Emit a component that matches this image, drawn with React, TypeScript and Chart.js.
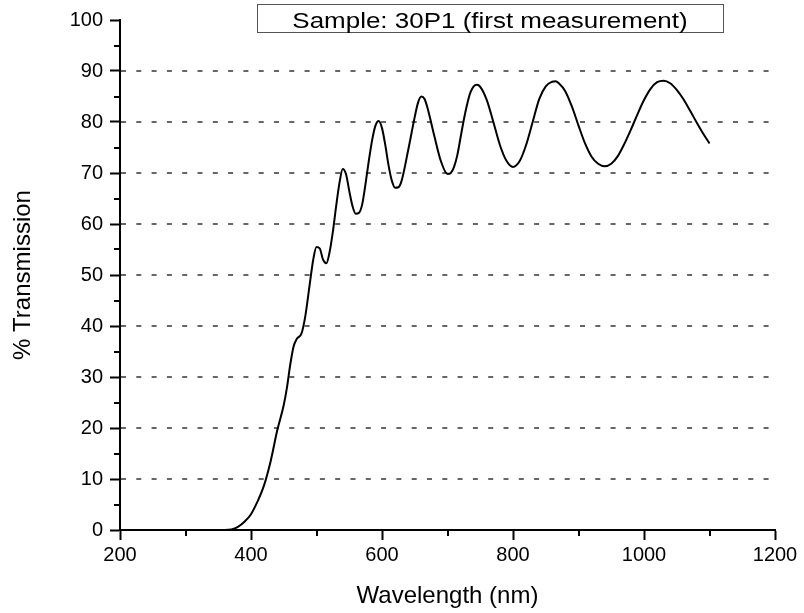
import React, { useEffect, useRef } from 'react';
import { Chart, registerables } from 'chart.js';

Chart.register(...registerables);

// ---- data ----
const wavelengths = [
  300, 320, 340, 360, 370, 380, 390, 400, 410, 420, 430, 440, 450, 455, 460, 465, 470, 477, 483, 490,
  495, 500, 505, 510, 515, 520, 525, 530, 535, 540, 545, 550, 555, 560, 565, 570, 575, 580, 585, 590,
  595, 600, 605, 610, 615, 620, 625, 630, 640, 650, 655, 660, 665, 670, 680, 690, 700, 705, 710, 715,
  720, 725, 730, 735, 740, 745, 750, 760, 770, 780, 790, 800, 810, 820, 830, 840, 850, 860, 865, 870,
  880, 890, 900, 910, 920, 930, 940, 950, 960, 970, 980, 990, 1000, 1010, 1020, 1030, 1040, 1050, 1060,
  1070, 1080, 1090, 1100,
];
const transmission = [
  0, 0, 0, 0, 0.1, 0.6, 1.6, 3.1, 5.6, 8.8, 13.5, 19.5, 24.5, 28, 32.5, 36, 37.5, 38.5, 42, 48.5,
  53, 55.5, 55.2, 53, 52.3, 54.5, 58.5, 63.5, 68, 70.8, 69.8, 66.5, 63.5, 62, 62.2, 64, 68, 72.5, 76.5, 79.3,
  80.2, 78.8, 75.5, 71.5, 68.5, 67.1, 67.2, 68.5, 74.5, 81, 83.8, 85, 84.5, 82.5, 77.2, 72.3, 69.8, 70, 71.2, 73.5,
  77, 80.5, 83.5, 85.8, 87, 87.3, 86.9, 84.3, 80, 75.5, 72.4, 71.2, 72.3, 75.5, 80, 84.5, 87, 87.9, 88, 87.6,
  86, 83, 79.3, 75.8, 73.2, 71.8, 71.3, 71.8, 73.3, 75.7, 78.5, 81.5, 84.3, 86.5, 87.8, 88.1, 87.6, 86.3, 84.5,
  82.3, 80, 77.8, 75.8,
];

const xRange = [200, 1200];
const yRange = [0, 100];
const xStep = 200;
const yStep = 10;
const gridValues = [10, 20, 30, 40, 50, 60, 70, 80, 90];
const xMinorTicks = [300, 500, 700, 900, 1100];
const yMinorTicks = [5, 15, 25, 35, 45, 55, 65, 75, 85, 95];

const chartTitle = 'Sample: 30P1 (first measurement)';
const xTitle = 'Wavelength (nm)';
const yTitle = '% Transmission';

const FONT = '"Liberation Sans", Arial, Helvetica, sans-serif';

const decorPlugin = {
  id: 'decor',
  beforeDatasetsDraw(chart: any) {
    const { ctx, chartArea, scales } = chart;
    const x = scales.x;
    const y = scales.y;
    ctx.save();
    // dotted grid lines
    ctx.strokeStyle = '#666666';
    ctx.lineWidth = 2;
    ctx.setLineDash([5, 10.3]);
    for (const v of gridValues) {
      const py = Math.round(y.getPixelForValue(v));
      ctx.beginPath();
      ctx.moveTo(chartArea.left + 1, py);
      ctx.lineTo(chartArea.right - 2, py);
      ctx.stroke();
    }
    ctx.setLineDash([]);
    // minor ticks
    ctx.strokeStyle = '#000';
    ctx.lineWidth = 2;
    for (const v of xMinorTicks) {
      const px = Math.round(x.getPixelForValue(v));
      ctx.beginPath();
      ctx.moveTo(px, chartArea.bottom);
      ctx.lineTo(px, chartArea.bottom + 6);
      ctx.stroke();
    }
    for (const v of yMinorTicks) {
      const py = Math.round(y.getPixelForValue(v));
      ctx.beginPath();
      ctx.moveTo(chartArea.left, py);
      ctx.lineTo(chartArea.left - 6, py);
      ctx.stroke();
    }
    ctx.restore();
  },
  afterDraw(chart: any) {
    const { ctx } = chart;
    ctx.save();
    // title box
    ctx.strokeStyle = '#555';
    ctx.lineWidth = 1;
    ctx.strokeRect(257.5, 4.5, 466, 28);
    ctx.fillStyle = '#000';
    ctx.font = `22px ${FONT}`;
    ctx.textAlign = 'center';
    ctx.textBaseline = 'alphabetic';
    ctx.translate(490, 28);
    ctx.scale(1.18, 1);
    ctx.fillText(chartTitle, 0, 0);
    ctx.restore();
  },
};

export default function App() {
  const canvasRef = useRef<HTMLCanvasElement | null>(null);

  useEffect(() => {
    document.body.style.margin = '0';
    const canvas = canvasRef.current;
    if (!canvas) return;
    const points = wavelengths.map((w, i) => ({ x: w, y: transmission[i] }));
    const chart = new Chart(canvas, {
      type: 'line',
      data: {
        datasets: [
          {
            data: points,
            borderColor: '#000',
            borderWidth: 2,
            pointRadius: 0,
            fill: false,
            cubicInterpolationMode: 'monotone',
          },
        ],
      },
      options: {
        animation: false,
        responsive: false,
        devicePixelRatio: 1,
        layout: { padding: { top: 20, right: 29, bottom: 0, left: 0 } },
        plugins: {
          legend: { display: false },
          title: { display: false },
          tooltip: { enabled: false },
        },
        scales: {
          x: {
            type: 'linear',
            min: xRange[0],
            max: xRange[1],
            afterFit: (s: any) => {
              s.height = 83;
            },
            ticks: {
              stepSize: xStep,
              color: '#000',
              padding: 3,
              maxRotation: 0,
              font: { family: FONT, size: 20 },
              callback: (v: any) => String(v),
            },
            grid: {
              display: true,
              drawOnChartArea: false,
              drawTicks: true,
              tickLength: 10,
              tickWidth: 2,
              tickColor: '#000',
              color: 'rgba(0,0,0,0)',
            },
            border: { display: true, color: '#000', width: 2 },
            title: {
              display: true,
              text: xTitle,
              color: '#000',
              font: { family: FONT, size: 24 },
              padding: { top: 0, bottom: 2 },
            },
          },
          y: {
            type: 'linear',
            min: yRange[0],
            max: yRange[1],
            afterFit: (s: any) => {
              s.width = 120;
            },
            ticks: {
              stepSize: yStep,
              color: '#000',
              padding: 7,
              font: { family: FONT, size: 20 },
              callback: (v: any) => String(v),
            },
            grid: {
              display: true,
              drawOnChartArea: false,
              drawTicks: true,
              tickLength: 10,
              tickWidth: 2,
              tickColor: '#000',
              color: 'rgba(0,0,0,0)',
            },
            border: { display: true, color: '#000', width: 2 },
            title: {
              display: true,
              text: yTitle,
              color: '#000',
              font: { family: FONT, size: 24 },
              padding: { top: 9, bottom: 0 },
            },
          },
        },
      },
      plugins: [decorPlugin],
    });
    return () => chart.destroy();
  }, []);

  return (
    <div style={{ width: 804, height: 613 }}>
      <canvas ref={canvasRef} width={804} height={613} style={{ display: 'block', width: 804, height: 613 }} />
    </div>
  );
}
